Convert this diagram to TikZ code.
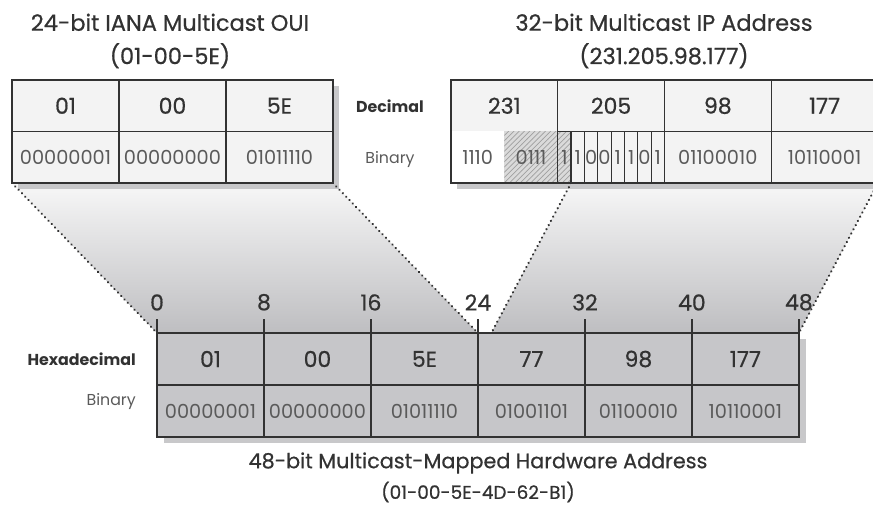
\documentclass[tikz,border=0pt]{standalone}
\usepackage{fontspec}
\setmainfont{Poppins}
\newfontfamily\medfont{Poppins}[FakeBold=0.6]
\usetikzlibrary{positioning,patterns,backgrounds}
\definecolor{inkgray}{RGB}{50,50,50}
\definecolor{bingray}{RGB}{90,90,90}
\definecolor{paleface}{RGB}{243,243,243}
\definecolor{hwface}{RGB}{198,198,201}
\definecolor{shadetop}{RGB}{247,247,247}
\definecolor{shadebottom}{RGB}{190,190,193}
\definecolor{shadowgray}{RGB}{200,200,202}
\definecolor{hatchface}{RGB}{218,218,218}
\definecolor{hatchline}{RGB}{160,160,160}
\tikzset{
  cell/.style={
    rectangle,
    draw=inkgray,
    line width=0.7pt,
    inner sep=0pt,
    outer sep=0pt,
    fill=paleface,
    text=inkgray,
    minimum width=2.14cm,
    minimum height=1.03cm
  },
  hexcell/.style={cell, font=\medfont\fontsize{12.5}{12.5}\selectfont},
  bincell/.style={cell, text=bingray, font=\fontsize{11}{11}\selectfont},
  ipcell/.style={minimum width=2.135cm},
  hwcell/.style={fill=hwface, minimum height=1.04cm},
  bitcell/.style={cell, text=bingray, minimum width=0.267cm, font=\fontsize{11}{11}\selectfont},
  hatchcell/.style={preaction={fill=hatchface}, pattern=north east lines, pattern color=hatchline},
  frame/.style={draw=inkgray, line width=1.3pt},
  shadow/.style={fill=shadowgray},
  linkline/.style={draw=inkgray, line width=1.4pt, dash pattern=on 0.01pt off 2.7pt, line cap=round},
  tick/.style={draw=inkgray, line width=1pt},
  ticklabel/.style={above=1pt, text=inkgray, font=\medfont\fontsize{12.5}{12.5}\selectfont},
  title/.style={align=center, text=inkgray, font=\medfont\fontsize{12.8}{19}\selectfont},
  hwtitlestyle/.style={text=inkgray, font=\medfont\fontsize{11.8}{11.8}\selectfont},
  subtitle/.style={text=inkgray, font=\medfont\fontsize{10.5}{10.5}\selectfont},
  rowlabel/.style={text=inkgray, font=\fontsize{9}{9}\selectfont\bfseries},
  binlabel/.style={text=bingray, font=\fontsize{9}{9}\selectfont}
}

\begin{document}
\begin{tikzpicture}[x=0.02cm, y=-0.02cm]
  \useasboundingbox (0,0) rectangle (873,508);

  \node[title] (ouititle) at (170,41) {24-bit IANA Multicast OUI\\(01-00-5E)};
  \node[title] (iptitle) at (664,41) {32-bit Multicast IP Address\\(231.205.98.177)};

  \node[hexcell, anchor=north west] (oui1) at (12,80) {01};
  \node[hexcell, right=0pt of oui1] (oui2) {00};
  \node[hexcell, right=0pt of oui2] (oui3) {5E};
  \node[bincell, below=0pt of oui1] (ouib1) {00000001};
  \node[bincell, below=0pt of oui2] (ouib2) {00000000};
  \node[bincell, below=0pt of oui3] (ouib3) {01011110};

  \node[rowlabel] (declbl) at (390,106) {Decimal};
  \node[binlabel] (binlbl) at (390,160) {Binary};

  \node[hexcell, ipcell, anchor=north west] (ip1) at (451,80) {231};
  \node[hexcell, ipcell, right=0pt of ip1] (ip2) {205};
  \node[hexcell, ipcell, right=0pt of ip2] (ip3) {98};
  \node[hexcell, ipcell, right=0pt of ip3] (ip4) {177};
  \node[bincell, draw=none, fill=white, minimum width=1.0675cm, anchor=north west] (ipb1) at (ip1.south west) {1110};
  \node[bincell, hatchcell, draw=none, minimum width=1.0675cm, right=0pt of ipb1] (ipb2) {0111};
  \node[bitcell, hatchcell, right=0pt of ipb2] (bit1) {1};
  \node[bitcell, right=0pt of bit1] (bit2) {1};
  \node[bitcell, right=0pt of bit2] (bit3) {0};
  \node[bitcell, right=0pt of bit3] (bit4) {0};
  \node[bitcell, right=0pt of bit4] (bit5) {1};
  \node[bitcell, right=0pt of bit5] (bit6) {1};
  \node[bitcell, right=0pt of bit6] (bit7) {0};
  \node[bitcell, right=0pt of bit7] (bit8) {1};
  \node[bincell, ipcell, below=0pt of ip3] (ipb3) {01100010};
  \node[bincell, ipcell, below=0pt of ip4] (ipb4) {10110001};

  \node[hexcell, hwcell, anchor=north west] (hw1) at (157,333) {01};
  \node[hexcell, hwcell, right=0pt of hw1] (hw2) {00};
  \node[hexcell, hwcell, right=0pt of hw2] (hw3) {5E};
  \node[hexcell, hwcell, right=0pt of hw3] (hw4) {77};
  \node[hexcell, hwcell, right=0pt of hw4] (hw5) {98};
  \node[hexcell, hwcell, right=0pt of hw5] (hw6) {177};
  \node[bincell, hwcell, below=0pt of hw1] (hwb1) {00000001};
  \node[bincell, hwcell, below=0pt of hw2] (hwb2) {00000000};
  \node[bincell, hwcell, below=0pt of hw3] (hwb3) {01011110};
  \node[bincell, hwcell, below=0pt of hw4] (hwb4) {01001101};
  \node[bincell, hwcell, below=0pt of hw5] (hwb5) {01100010};
  \node[bincell, hwcell, below=0pt of hw6] (hwb6) {10110001};
  \coordinate (bit25) at ([xshift=0.2675cm]hw4.north west);

  \node[rowlabel, anchor=east] (hexlbl) at (142,359) {Hexadecimal};
  \node[binlabel, anchor=east] (hwbinlbl) at (142,402) {Binary};

  \node[hwtitlestyle] (hwtitle) at (478,463) {48-bit Multicast-Mapped Hardware Address};
  \node[subtitle] (hwsub) at (478,492) {(01-00-5E-4D-62-B1)};

  \draw[frame] (oui1.north west) rectangle (ouib3.south east);
  \draw[frame] (ip1.north west) rectangle (ipb4.south east);
  \draw[frame] (hw1.north west) rectangle (hwb6.south east);

  \draw[tick] (hw1.north west) -- ++(0,-14) node[ticklabel] {0};
  \draw[tick] (hw2.north west) -- ++(0,-14) node[ticklabel] {8};
  \draw[tick] (hw3.north west) -- ++(0,-14) node[ticklabel] {16};
  \draw[tick] (hw4.north west) -- ++(0,-14) node[ticklabel] {24};
  \draw[tick] (hw5.north west) -- ++(0,-14) node[ticklabel] {32};
  \draw[tick] (hw6.north west) -- ++(0,-14) node[ticklabel] {40};
  \draw[tick] (hw6.north east) -- ++(0,-14) node[ticklabel] {48};

  \begin{pgfonlayer}{background}
    \shade[top color=shadetop, bottom color=shadebottom] (ouib1.south west) -- (ouib3.south east) -- (hw3.north east) -- (hw1.north west) -- cycle;
    \shade[top color=shadetop, bottom color=shadebottom] (bit1.south east) -- (ipb4.south east) -- (hw6.north east) -- (bit25) -- cycle;
    \fill[shadow] ([shift={(6,6)}]oui1.north west) rectangle ([shift={(6,6)}]ouib3.south east);
    \fill[shadow] ([shift={(6,6)}]ip1.north west) rectangle ([shift={(6,6)}]ipb4.south east);
    \fill[shadow] ([shift={(7,6)}]hw1.north west) rectangle ([shift={(7,6)}]hwb6.south east);
  \end{pgfonlayer}

  \draw[linkline] (ouib1.south west) -- (hw1.north west);
  \draw[linkline] (ouib3.south east) -- (hw3.north east);
  \draw[linkline] (bit1.south east) -- (bit25);
  \draw[linkline] (ipb4.south east) -- (hw6.north east);
\end{tikzpicture}
\end{document}
